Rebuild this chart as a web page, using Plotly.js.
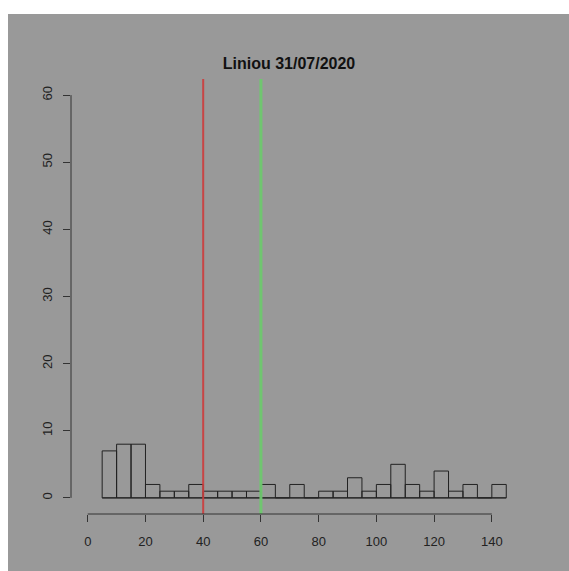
<!DOCTYPE html>
<html>
<head>
<meta charset="utf-8">
<script src="https://cdn.plot.ly/plotly-3.0.1.min.js"></script>
<style>
html,body{margin:0;padding:0;background:#ffffff;width:569px;height:571px;overflow:hidden;}
#chart{position:absolute;left:8px;top:14px;width:561px;height:557px;}
</style>
</head>
<body>
<div id="chart"></div>
<script>
// Histogram bins (breaks every 5 units) and counts
const binStarts = [5,10,15,20,25,30,35,40,45,50,55,60,65,70,75,80,85,90,95,100,105,110,115,120,125,130,135,140];
const binWidth = 5;
const counts    = [7,8,8,2,1,1,2,1,1,1,1,2,0,2,0,1,1,3,1,2,5,2,1,4,1,2,0,2];
const redLine = [40];
const greenLine = [60];
const xTicks = [0,20,40,60,80,100,120,140];
const yTicks = [0,10,20,30,40,50,60];
const titleText = "Liniou 31/07/2020";

const centers = binStarts.map(s => s + binWidth/2);
const bg = "#999999";
const ink = "#222222";
const font = "Liberation Sans, Arial, sans-serif";

const traces = [
  {
    type: "bar",
    x: centers,
    y: counts,
    width: binStarts.map(() => binWidth),
    marker: {color: "rgba(0,0,0,0)", line: {color: ink, width: 1}},
    hoverinfo: "skip"
  },
  {
    type: "scatter",
    mode: "lines",
    x: [binStarts[0], binStarts[binStarts.length-1] + binWidth],
    y: [0, 0],
    line: {color: ink, width: 1},
    hoverinfo: "skip"
  }
];

const shapes = [
  {type:"line", xref:"x", yref:"paper", x0:redLine[0], x1:redLine[0], y0:0, y1:1,
   line:{color:"rgba(205,60,60,0.9)", width:2}},
  {type:"line", xref:"x", yref:"paper", x0:greenLine[0], x1:greenLine[0], y0:0, y1:1,
   line:{color:"rgba(110,200,110,0.95)", width:3}},
  // R-style axis lines spanning first to last tick
  {type:"line", xref:"x", yref:"paper", x0:xTicks[0], x1:xTicks[xTicks.length-1], y0:0, y1:0,
   line:{color:"#333333", width:1}},
  {type:"line", xref:"paper", yref:"y", x0:0, x1:0, y0:yTicks[0], y1:yTicks[yTicks.length-1],
   line:{color:"#333333", width:1}}
];

const layout = {
  width: 561, height: 557,
  paper_bgcolor: bg, plot_bgcolor: bg,
  margin: {l:63, r:46, t:65, b:57, pad:0},
  showlegend: false,
  bargap: 0,
  title: {
    text: "<b>" + titleText + "</b>",
    font: {family: font, size: 16, color: "#111111"},
    x: 281/561, xref: "container", xanchor: "center",
    y: 1 - 49/557, yref: "container", yanchor: "middle"
  },
  xaxis: {
    range: [-5.8, 150.8],
    tickmode: "array", tickvals: xTicks, ticktext: xTicks.map(String),
    ticks: "outside", ticklen: 7, tickwidth: 1, tickcolor: "#333333",
    showline: false, showgrid: false, zeroline: false,
    tickfont: {family: font, size: 13, color: ink},
    ticklabelstandoff: 8,
    fixedrange: true
  },
  yaxis: {
    range: [-2.4, 62.4],
    tickmode: "array", tickvals: yTicks, ticktext: yTicks.map(String),
    ticks: "outside", ticklen: 7, tickwidth: 1, tickcolor: "#333333",
    tickangle: -90,
    showline: false, showgrid: false, zeroline: false,
    tickfont: {family: font, size: 13, color: ink},
    ticklabelstandoff: 6,
    fixedrange: true
  },
  shapes: shapes
};

Plotly.newPlot("chart", traces, layout, {displayModeBar: false, staticPlot: true});
</script>
</body>
</html>
